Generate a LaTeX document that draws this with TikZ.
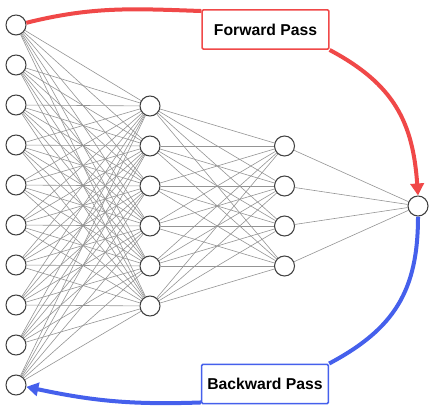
\documentclass[tikz,border=0pt]{standalone}
\usepackage{fontspec}
\setmainfont{Liberation Sans}
\usetikzlibrary{arrows.meta}
\definecolor{fred}{HTML}{F04848}
\definecolor{bblue}{HTML}{4560EC}
\tikzset{
  neuron/.style={circle,draw=black!75,line width=0.8pt,fill=white,minimum size=15pt,inner sep=0pt},
  edge/.style={draw=black!42,line width=0.45pt},
  passbox/.style={draw,line width=1.2pt,fill=white,rounded corners=1pt,minimum width=95pt,minimum height=29.5pt,inner sep=0pt,font=\fontsize{11.8}{14}\selectfont\bfseries},
  passarrow/.style={line width=3pt,-{Triangle[length=9pt,width=10pt]}},
}
\begin{document}
\begin{tikzpicture}[x=0.75pt,y=0.75pt]
\useasboundingbox (0,0) rectangle (434,414);
\foreach \i in {1,...,10} \node[neuron] (a\i) at (16,{389-40*(\i-1)}) {};
\foreach \j in {1,...,6} \node[neuron] (b\j) at (150,{308-40*(\j-1)}) {};
\foreach \k in {1,...,4} \node[neuron] (c\k) at (284.5,{268-40*(\k-1)}) {};
\node[neuron] (o) at (418,208) {};
\foreach \i in {1,...,10} \foreach \j in {1,...,6} \draw[edge] (a\i) -- (b\j);
\foreach \j in {1,...,6} \foreach \k in {1,...,4} \draw[edge] (b\j) -- (c\k);
\foreach \k in {1,...,4} \draw[edge] (c\k) -- (o);
\node[passbox,draw=fred] (fwd) at (265.5,384.5) {Forward Pass};
\node[passbox,draw=bblue] (bwd) at (265,30) {Backward Pass};
\draw[fred,line width=3pt] (a1.12) to[out=14,in=178] ([yshift=-1.5pt]fwd.north west);
\draw[fred,passarrow] (fwd.south east) to[out=-28,in=94,looseness=1.1] (o.north);
\draw[bblue,line width=3pt] (o.south) to[out=-90,in=28,looseness=1.1] (bwd.north east);
\draw[bblue,passarrow] ([yshift=1.5pt]bwd.south west) to[out=182,in=-12] (a10.-10);
\end{tikzpicture}
\end{document}
